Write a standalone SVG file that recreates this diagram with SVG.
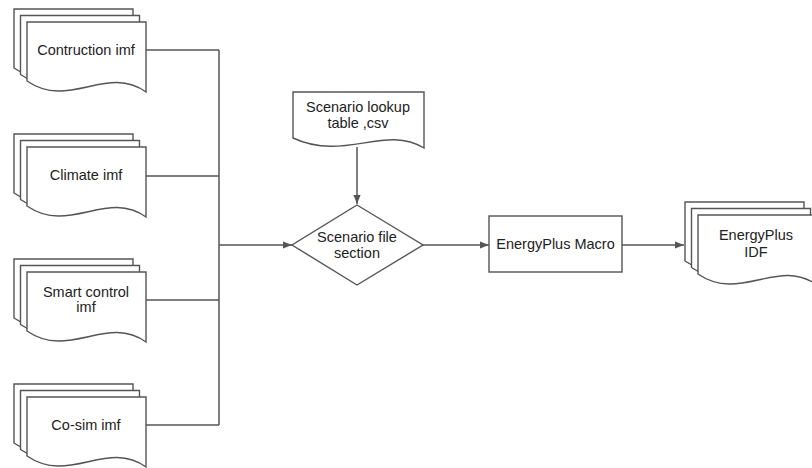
<svg xmlns="http://www.w3.org/2000/svg" xmlns:xlink="http://www.w3.org/1999/xlink" width="812" height="468" viewBox="0 0 812 468">
<style>
.shape{fill:#fff;stroke:#555;stroke-width:1.4}
.lbl{font-family:"Liberation Sans",Arial,sans-serif;font-size:14.5px;fill:#222;text-anchor:middle}
.con{fill:none;stroke:#555;stroke-width:1.5}
.arr{fill:none;stroke:#555;stroke-width:1.5;marker-end:url(#ah)}
</style>
<defs>
<marker id="ah" viewBox="0 0 10 10" refX="10" refY="5" markerWidth="9" markerHeight="9" markerUnits="userSpaceOnUse" orient="auto">
<path d="M0,1 L10,5 L0,9 Z" fill="#555"/>
</marker>
<path id="doc" d="M0,0 H119 V70 C80,42 42,88 0,59 Z"/>
<g id="stack">
<use xlink:href="#doc" class="shape" x="-13" y="-13"/>
<use xlink:href="#doc" class="shape" x="-6.5" y="-6.5"/>
<use xlink:href="#doc" class="shape"/>
</g>
</defs>
<g id="connectors">
<path class="con" d="M146,50 H219 M146,176 H219 M146,300 H219 M146,425 H219 M219,50 V425"/>
<path class="arr" d="M219,245 H292"/>
<path class="arr" d="M357,147 V204"/>
<path class="arr" d="M423,245 H489"/>
<path class="arr" d="M622,245 H684"/>
</g>
<g id="n-contruction">
<use xlink:href="#stack" x="27" y="22"/>
<text class="lbl" x="86" y="55">Contruction imf</text>
</g>
<g id="n-climate">
<use xlink:href="#stack" x="27" y="147"/>
<text class="lbl" x="86" y="180">Climate imf</text>
</g>
<g id="n-smart">
<use xlink:href="#stack" x="27" y="272"/>
<text class="lbl" x="86" y="297">Smart control</text>
<text class="lbl" x="86" y="312">imf</text>
</g>
<g id="n-cosim">
<use xlink:href="#stack" x="27" y="397"/>
<text class="lbl" x="86" y="430">Co-sim imf</text>
</g>
<g id="n-lookup">
<path class="shape" d="M293,92 H424 V148 C385,124 345,162 293,138 Z"/>
<text class="lbl" x="358" y="112">Scenario lookup</text>
<text class="lbl" x="358" y="128">table ,csv</text>
</g>
<g id="n-section">
<path class="shape" d="M357,205 L423,245 L357,285 L292,245 Z"/>
<text class="lbl" x="357" y="242">Scenario file</text>
<text class="lbl" x="357" y="258">section</text>
</g>
<g id="n-macro">
<rect class="shape" x="489" y="216" width="133" height="56"/>
<text class="lbl" x="555.5" y="249">EnergyPlus Macro</text>
</g>
<g id="n-idf">
<use xlink:href="#stack" x="698" y="215"/>
<text class="lbl" x="756" y="240">EnergyPlus</text>
<text class="lbl" x="756" y="257">IDF</text>
</g>
</svg>
